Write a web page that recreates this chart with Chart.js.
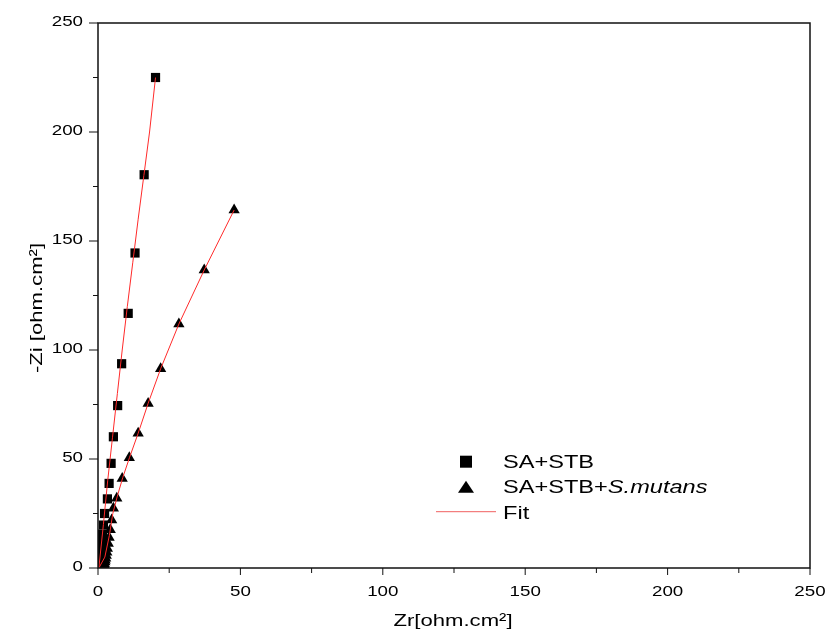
<!DOCTYPE html>
<html>
<head>
<meta charset="utf-8">
<script src="https://cdn.jsdelivr.net/npm/chart.js@4"></script>
<style>
  body { margin: 0; background: #fff; }
  #wrap { width: 827px; height: 634px; }
</style>
</head>
<body>
<div id="wrap"><canvas id="nyquistChart"></canvas></div>
<script>
// Axis ticks
const xTicks = [0, 50, 100, 150, 200, 250];
const yTicks = [0, 50, 100, 150, 200, 250];

// SA+STB (squares)
const sqX = [20.2, 16.2, 13.0, 10.6, 8.3, 6.9, 5.4, 4.6, 3.9, 3.3, 2.3, 1.9, 1.6, 1.4, 1.2, 1.1, 1.0, 0.9, 0.8, 0.7, 0.65, 0.6, 0.55, 0.5];
const sqY = [225, 180.4, 144.5, 116.8, 93.7, 74.5, 60.2, 48, 38.8, 31.7, 25, 19.7, 15.5, 12.2, 9.6, 7.6, 6.0, 4.7, 3.7, 2.9, 2.2, 1.7, 1.2, 0.9];

// SA+STB+S.mutans (triangles)
const triX = [47.8, 37.3, 28.4, 22.0, 17.6, 14.1, 11.0, 8.5, 6.6, 5.4, 4.8, 4.3, 3.9, 3.6, 3.3, 3.1, 2.9, 2.7, 2.5, 2.4, 2.2, 2.1, 2.0, 1.9];
const triY = [164.2, 136.7, 111.9, 91.4, 75.5, 61.8, 50.6, 41.1, 32, 27.4, 22, 17.5, 14, 11.2, 9, 7.2, 5.7, 4.5, 3.5, 2.7, 2.0, 1.4, 1.0, 0.6];

// Fit curves
const fitSqX = [0.3, 1.9, 3.4, 5.1, 6.8, 8.5, 10.3, 12.2, 14.1, 16.1, 18.1, 20.2];
const fitSqY = [0, 20, 40, 60, 80, 100, 120, 140, 160, 180, 200, 225];
const fitTriX = [0.3, 2.4, 4.0, 5.2, 6.8, 8.7, 11.1, 14.1, 17.6, 22.0, 28.4, 37.3, 47.8];
const fitTriY = [0, 5, 15, 25, 33, 41.5, 50.8, 61.8, 75.5, 91.4, 111.9, 136.7, 164.2];

function toPoints(xs, ys) {
    return xs.map((x, i) => ({ x: x, y: ys[i] }));
}

// Draw text stretched horizontally (the original font is wide)
function drawStretched(ctx, text, x, y, sx, align) {
    const w = ctx.measureText(text).width * sx;
    let x0 = x;
    if (align === 'center') x0 = x - w / 2;
    else if (align === 'right') x0 = x - w;
    ctx.save();
    ctx.translate(x0, y);
    ctx.scale(sx, 1);
    ctx.textAlign = 'left';
    ctx.fillText(text, 0, 0);
    ctx.restore();
    return w;
}

// Frame, ticks, labels, titles and legend
const decorPlugin = {
    id: 'decor',
    afterDraw(chart) {
        const ctx = chart.ctx;
        const area = chart.chartArea;
        const xs = chart.scales.x;
        const ys = chart.scales.y;
        ctx.save();

        // frame
        ctx.strokeStyle = '#111';
        ctx.lineWidth = 1.5;
        ctx.strokeRect(area.left, area.top, area.right - area.left, area.bottom - area.top);

        // tick marks (major + minor)
        ctx.lineWidth = 1;
        for (let v = 0; v <= 250; v += 25) {
            const major = v % 50 === 0;
            const py = ys.getPixelForValue(v);
            const px = xs.getPixelForValue(v);
            ctx.beginPath();
            ctx.moveTo(area.left - (major ? 9 : 5), py);
            ctx.lineTo(area.left, py);
            ctx.moveTo(px, area.bottom);
            ctx.lineTo(px, area.bottom + (major ? 7 : 5));
            ctx.stroke();
        }

        // tick labels
        ctx.fillStyle = '#000';
        ctx.font = '15px "Liberation Sans", Arial, sans-serif';
        ctx.textBaseline = 'alphabetic';
        yTicks.forEach(v => {
            drawStretched(ctx, String(v), 83, ys.getPixelForValue(v) + 3.4, 1.25, 'right');
        });
        xTicks.forEach(v => {
            drawStretched(ctx, String(v), xs.getPixelForValue(v), 596, 1.25, 'center');
        });

        // axis titles
        ctx.font = '17px "Liberation Sans", Arial, sans-serif';
        drawStretched(ctx, 'Zr[ohm.cm²]', 453, 626, 1.3, 'center');
        ctx.save();
        ctx.translate(42, 308);
        ctx.rotate(-Math.PI / 2);
        drawStretched(ctx, '-Zi [ohm.cm²]', 0, 0, 1.3, 'center');
        ctx.restore();

        // legend
        ctx.fillStyle = '#000';
        ctx.fillRect(460, 455.7, 12, 12);
        ctx.beginPath();
        ctx.moveTo(466, 480.7);
        ctx.lineTo(474, 492.7);
        ctx.lineTo(458, 492.7);
        ctx.closePath();
        ctx.fill();
        ctx.strokeStyle = '#f06060';
        ctx.beginPath();
        ctx.moveTo(436, 511.7);
        ctx.lineTo(496, 511.7);
        ctx.stroke();

        ctx.font = '18px "Liberation Sans", Arial, sans-serif';
        drawStretched(ctx, 'SA+STB', 503, 468, 1.31, 'left');
        const w = drawStretched(ctx, 'SA+STB+', 503, 492.5, 1.31, 'left');
        ctx.font = 'italic 18px "Liberation Sans", Arial, sans-serif';
        drawStretched(ctx, 'S.mutans', 503 + w, 492.5, 1.31, 'left');
        ctx.font = '18px "Liberation Sans", Arial, sans-serif';
        drawStretched(ctx, 'Fit', 503, 519, 1.31, 'left');

        ctx.restore();
    }
};

const data = {
    datasets: [
        {
            label: 'Fit SA+STB',
            data: toPoints(fitSqX, fitSqY),
            showLine: true,
            borderColor: '#ff2a2a',
            borderWidth: 1,
            pointRadius: 0,
            order: 0
        },
        {
            label: 'Fit SA+STB+S.mutans',
            data: toPoints(fitTriX, fitTriY),
            showLine: true,
            borderColor: '#ff2a2a',
            borderWidth: 1,
            pointRadius: 0,
            order: 0
        },
        {
            label: 'SA+STB',
            data: toPoints(sqX, sqY),
            pointStyle: 'rect',
            pointRadius: 6.5,
            pointBorderWidth: 0,
            backgroundColor: '#000',
            borderColor: '#000',
            order: 1
        },
        {
            label: 'SA+STB+S.mutans',
            data: toPoints(triX, triY),
            pointStyle: 'triangle',
            pointRadius: 6.5,
            pointBorderWidth: 0,
            backgroundColor: '#000',
            borderColor: '#000',
            order: 1
        }
    ]
};

const config = {
    type: 'scatter',
    data: data,
    options: {
        responsive: true,
        maintainAspectRatio: false,
        animation: false,
        layout: { padding: { top: 23, right: 17, left: 0, bottom: 0 } },
        plugins: {
            legend: { display: false },
            tooltip: { enabled: false }
        },
        scales: {
            x: {
                type: 'linear',
                min: 0,
                max: 250,
                grid: { display: false },
                border: { display: false },
                ticks: { display: false },
                afterFit(scale) { scale.height = 66; }
            },
            y: {
                type: 'linear',
                min: 0,
                max: 250,
                grid: { display: false },
                border: { display: false },
                ticks: { display: false },
                afterFit(scale) { scale.width = 98; }
            }
        }
    },
    plugins: [decorPlugin]
};

const ctx = document.getElementById('nyquistChart').getContext('2d');
new Chart(ctx, config);
</script>
</body>
</html>
